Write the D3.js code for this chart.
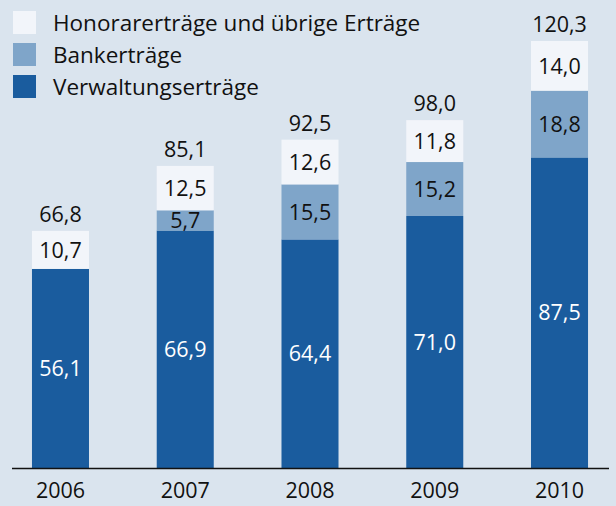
<!DOCTYPE html>
<html>
<head>
<meta charset="utf-8">
<script src="https://cdn.jsdelivr.net/npm/d3@7"></script>
<style>
  body { margin: 0; background: #dae4ee; }
  svg { display: block; font-family: "Open Sans", sans-serif; }
</style>
</head>
<body>
<div id="chart"></div>
<script>
var years = ["2006", "2007", "2008", "2009", "2010"];
var verwaltung = [56.1, 66.9, 64.4, 71.0, 87.5];
var bank = [0, 5.7, 15.5, 15.2, 18.8];
var honorar = [10.7, 12.5, 12.6, 11.8, 14.0];
var totals = [66.8, 85.1, 92.5, 98.0, 120.3];
var seriesNames = ["Honorarerträge und übrige Erträge", "Bankerträge", "Verwaltungserträge"];
var colors = { verwaltung: "#1a5c9e", bank: "#7fa5c9", honorar: "#f2f5fa" };

var width = 616, height = 506;
var baseY = 468;

var svg = d3.select("#chart").append("svg")
    .attr("width", width)
    .attr("height", height);

svg.append("rect")
    .attr("width", width)
    .attr("height", height)
    .attr("fill", "#dae4ee");

var x = d3.scaleBand()
    .domain(years)
    .range([-1.9, 621.9])
    .paddingInner(0.543)
    .paddingOuter(0.2715);

var y = d3.scaleLinear()
    .domain([0, 120.3])
    .range([baseY, 41]);

var fmt = function(v) { return d3.format(".1f")(v).replace(".", ","); };

// stacked table built from the arrays
var table = years.map(function(yr, i) {
    return { year: yr, verwaltung: verwaltung[i], bank: bank[i], honorar: honorar[i], total: totals[i] };
});
var keys = ["verwaltung", "bank", "honorar"];
var stacked = d3.stack().keys(keys)(table);

var layers = svg.selectAll("g.layer")
    .data(stacked)
    .enter()
    .append("g")
    .attr("class", "layer")
    .attr("fill", d => colors[d.key]);

layers.selectAll("rect")
    .data(d => d)
    .enter()
    .append("rect")
    .attr("x", d => x(d.data.year))
    .attr("width", x.bandwidth())
    .attr("y", d => y(d[1]))
    .attr("height", d => y(d[0]) - y(d[1]));

// segment labels (skip empty ones)
stacked.forEach(function(layer) {
    svg.selectAll("text.seg-" + layer.key)
        .data(layer.filter(d => d[1] - d[0] > 0))
        .enter()
        .append("text")
        .attr("class", "seg-" + layer.key)
        .attr("x", d => x(d.data.year) + x.bandwidth() / 2)
        .attr("y", d => (y(d[0]) + y(d[1])) / 2)
        .attr("dy", "0.36em")
        .attr("text-anchor", "middle")
        .attr("font-size", 21.5)
        .attr("fill", layer.key === "verwaltung" ? "#ffffff" : "#111111")
        .text(d => fmt(d[1] - d[0]));
});

// totals
svg.selectAll("text.total")
    .data(table)
    .enter()
    .append("text")
    .attr("class", "total")
    .attr("x", d => x(d.year) + x.bandwidth() / 2)
    .attr("y", d => y(d.total) - 9)
    .attr("text-anchor", "middle")
    .attr("font-size", 21.5)
    .attr("fill", "#111111")
    .text(d => fmt(d.total));

// baseline + year labels
svg.append("line")
    .attr("x1", 12).attr("x2", 609)
    .attr("y1", baseY + 0.5).attr("y2", baseY + 0.5)
    .attr("stroke", "#111111")
    .attr("stroke-width", 1.5);

var xAxis = d3.axisBottom(x).tickSize(0).tickPadding(0);
var gx = svg.append("g")
    .attr("transform", `translate(0, ${baseY})`)
    .call(xAxis);
gx.select(".domain").remove();
gx.selectAll("text")
    .attr("y", 30)
    .attr("dy", 0)
    .attr("font-size", 21.5)
    .attr("font-family", "Open Sans, sans-serif")
    .attr("fill", "#111111");

// legend
var legendColors = [colors.honorar, colors.bank, colors.verwaltung];
var legend = svg.selectAll("g.legend")
    .data(seriesNames)
    .enter()
    .append("g")
    .attr("class", "legend")
    .attr("transform", (d, i) => `translate(13, ${11 + i * 32})`);

legend.append("rect")
    .attr("width", 23)
    .attr("height", 23)
    .attr("fill", (d, i) => legendColors[i]);

legend.append("text")
    .attr("x", 40)
    .attr("y", 11.5)
    .attr("dy", "0.36em")
    .attr("font-size", 22.5)
    .attr("fill", "#111111")
    .text(d => d);
</script>
</body>
</html>
